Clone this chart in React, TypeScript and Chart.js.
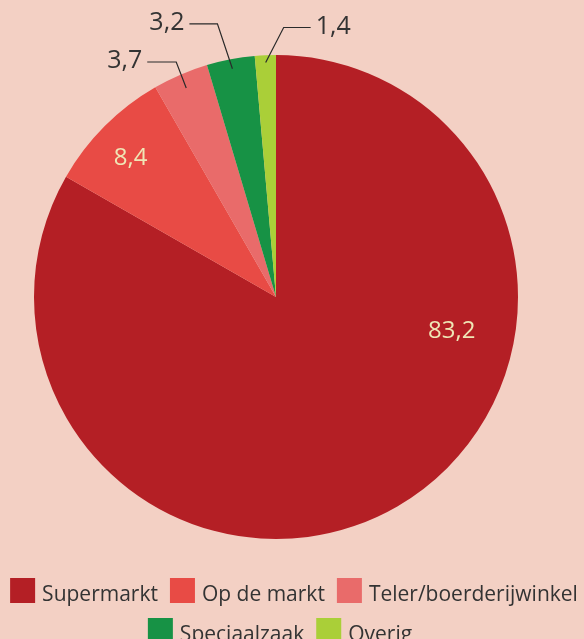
import React, { useEffect, useRef } from "react";
import { Chart, registerables } from "chart.js";

Chart.register(...registerables);

// ---- Data ----
const categories = ["Supermarkt", "Op de markt", "Teler/boerderijwinkel", "Speciaalzaak", "Overig"];
const values = [83.2, 8.4, 3.7, 3.2, 1.4];
const valueLabels = ["83,2", "8,4", "3,7", "3,2", "1,4"];
const colors = ["#B41F25", "#E84B45", "#E96B6A", "#179245", "#AACF38"];

// ---- Layout / style ----
const BG = "#F3D0C4";
const FONT = "'Open Sans', sans-serif";
const TEXT_DARK = "#333333";
const TEXT_INSIDE = "#EFE6B6";
const legendRows = [[0, 1, 2], [3, 4]];
const legendRowCenters = [294, 280];

const labelPlacement = [
  { inside: true, frac: 0.337, rf: 0.74 },
  { inside: true, frac: 0.456, rf: 0.83 },
  { inside: false, frac: 0.5, rf: 0.94, dx: -10, dy: -26, h: -29 },
  { inside: false, frac: 0.5, rf: 0.96, dx: -15, dy: -45, h: -28 },
  { inside: false, frac: 0.5, rf: 0.97, dx: 18, dy: -35, h: 27 },
];

const bgPlugin = {
  id: "bgFill",
  beforeDraw(chart: any) {
    const ctx = chart.ctx;
    ctx.save();
    ctx.fillStyle = BG;
    ctx.fillRect(0, 0, chart.width, chart.height);
    ctx.restore();
  },
};

const labelPlugin = {
  id: "sliceLabels",
  afterDatasetsDraw(chart: any) {
    const ctx = chart.ctx;
    const meta = chart.getDatasetMeta(0);
    ctx.save();
    meta.data.forEach((arc: any, i: number) => {
      const p = arc.getProps(["x", "y", "startAngle", "endAngle", "outerRadius"], true);
      const pl: any = labelPlacement[i];
      const a = p.startAngle + pl.frac * (p.endAngle - p.startAngle);
      const ax = p.x + Math.cos(a) * p.outerRadius * pl.rf;
      const ay = p.y + Math.sin(a) * p.outerRadius * pl.rf;
      if (pl.inside) {
        ctx.font = `24px ${FONT}`;
        ctx.fillStyle = TEXT_INSIDE;
        ctx.textAlign = "center";
        ctx.textBaseline = "middle";
        ctx.fillText(valueLabels[i], ax, ay);
      } else {
        const ex = ax + pl.dx;
        const ey = ay + pl.dy;
        const hx = ex + pl.h;
        ctx.strokeStyle = "#2a2a2a";
        ctx.lineWidth = 1.2;
        ctx.beginPath();
        ctx.moveTo(ax, ay);
        ctx.lineTo(ex, ey);
        ctx.lineTo(hx, ey);
        ctx.stroke();
        ctx.font = `25px ${FONT}`;
        ctx.fillStyle = TEXT_DARK;
        ctx.textBaseline = "middle";
        const dir = pl.h < 0 ? -1 : 1;
        ctx.textAlign = dir < 0 ? "right" : "left";
        ctx.fillText(valueLabels[i], hx + dir * 5, ey - 1);
      }
    });
    ctx.restore();
  },
};

const legendPlugin = {
  id: "bottomLegend",
  afterDraw(chart: any) {
    const ctx = chart.ctx;
    const ds = chart.data.datasets[0];
    const labels: string[] = chart.data.labels;
    const box = 25;
    const gapBT = 7;
    const gapItem = 12;
    ctx.save();
    ctx.font = `21px ${FONT}`;
    legendRows.forEach((row, r) => {
      const widths = row.map((i) => box + gapBT + ctx.measureText(labels[i]).width);
      const total = widths.reduce((s, w) => s + w, 0) + gapItem * (row.length - 1);
      let x = legendRowCenters[r] - total / 2;
      const top = 578 + r * 40;
      row.forEach((i, k) => {
        ctx.fillStyle = ds.backgroundColor[i];
        ctx.fillRect(x, top, box, box);
        ctx.fillStyle = TEXT_DARK;
        ctx.textAlign = "left";
        ctx.textBaseline = "alphabetic";
        ctx.fillText(labels[i], x + box + gapBT, top + 23);
        x += widths[k] + gapItem;
      });
    });
    ctx.restore();
  },
};

export default function App() {
  const ref = useRef<HTMLCanvasElement | null>(null);
  useEffect(() => {
    if (!ref.current) return;
    const chart = new Chart(ref.current, {
      type: "pie",
      data: {
        labels: categories,
        datasets: [
          {
            data: values,
            backgroundColor: colors,
            borderWidth: 0,
          },
        ],
      },
      options: {
        responsive: false,
        animation: false,
        layout: { padding: { left: 34, right: 66, top: 55, bottom: 100 } },
        plugins: {
          legend: { display: false },
          tooltip: { enabled: false },
        },
      },
      plugins: [bgPlugin, labelPlugin, legendPlugin],
    });
    return () => chart.destroy();
  }, []);
  return (
    <div style={{ position: "absolute", left: 0, top: 0, width: 584, height: 639, background: BG, overflow: "hidden" }}>
      <canvas ref={ref} width={584} height={639} style={{ display: "block", width: 584, height: 639 }} />
    </div>
  );
}
